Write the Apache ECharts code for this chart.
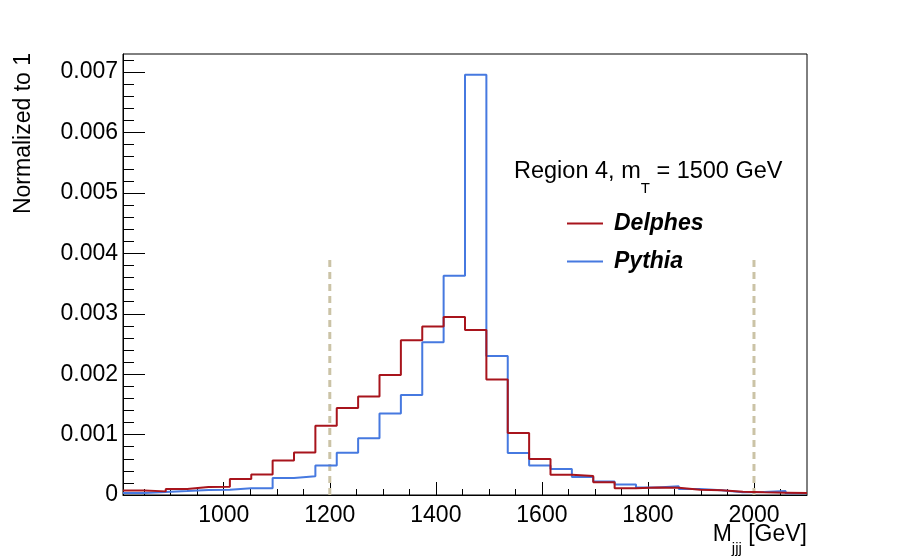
<!DOCTYPE html>
<html>
<head>
<meta charset="utf-8">
<script src="https://cdn.jsdelivr.net/npm/echarts@6/dist/echarts.min.js"></script>
<style>
  html, body { margin: 0; padding: 0; background: #fff; }
  #main { width: 913px; height: 556px; }
</style>
</head>
<body>
<div id="main"></div>
<script>
// histogram binning (M_jjj in GeV)
var xMin = 810, xMax = 2100, nBins = 32;

// normalized bin contents
var delphes = [0.076e-3, 0.060e-3, 0.099e-3, 0.132e-3, 0.138e-3, 0.265e-3, 0.340e-3, 0.573e-3,
               0.705e-3, 1.145e-3, 1.440e-3, 1.630e-3, 1.985e-3, 2.560e-3, 2.790e-3, 2.945e-3,
               2.730e-3, 1.910e-3, 1.026e-3, 0.595e-3, 0.336e-3, 0.314e-3, 0.210e-3, 0.112e-3,
               0.125e-3, 0.120e-3, 0.088e-3, 0.077e-3, 0.055e-3, 0.044e-3, 0.039e-3, 0.033e-3];
var pythia  = [0.033e-3, 0.050e-3, 0.066e-3, 0.083e-3, 0.088e-3, 0.110e-3, 0.110e-3, 0.280e-3,
               0.310e-3, 0.490e-3, 0.700e-3, 0.940e-3, 1.350e-3, 1.655e-3, 2.530e-3, 3.630e-3,
               6.955e-3, 2.300e-3, 0.695e-3, 0.490e-3, 0.430e-3, 0.300e-3, 0.222e-3, 0.173e-3,
               0.126e-3, 0.146e-3, 0.099e-3, 0.077e-3, 0.044e-3, 0.050e-3, 0.066e-3, 0.027e-3];

// mass window lines
var windowCuts = [1200, 2000];
var windowHeight = 0.00395;

// axis ticks
var xTicks = [1000, 1200, 1400, 1600, 1800, 2000];
var yTicks = [0, 0.001, 0.002, 0.003, 0.004, 0.005, 0.006, 0.007];
var yMax = 0.0073;

var myChart = echarts.init(document.getElementById('main'));

var binW = (xMax - xMin) / nBins;

function histData(vals) {
    var out = [];
    for (var i = 0; i < vals.length; i++) {
        out.push([xMin + i * binW, vals[i]]);
    }
    out.push([xMax, vals[vals.length - 1]]);
    return out;
}

// minor ticks: 50 GeV on x, 0.0002 on y
var xMinor = [], yMinor = [];
for (var v = 850; v < xMax; v += 50) xMinor.push(v);
for (var k = 0; k * 0.0002 <= yMax; k++) yMinor.push(+(k * 0.0002).toFixed(4));

var font = 'Liberation Sans, Arial, sans-serif';
var red = '#a8141c', blue = '#4679e0', cutColor = '#cbc3a6';

var cutSeries = windowCuts.map(function (c) {
    return {
        type: 'line',
        data: [[c, 0], [c, windowHeight]],
        showSymbol: false,
        silent: true,
        lineStyle: { color: cutColor, width: 3, type: [7, 5] },
        z: 1
    };
});

var option = {
    backgroundColor: '#fff',
    animation: false,
    grid: {
        left: 123, top: 54, width: 684, height: 441,
        show: true, borderColor: '#000', borderWidth: 1
    },
    xAxis: [{
        type: 'value', min: xMin, max: xMax,
        axisLine: { show: true, lineStyle: { color: '#000', width: 1 } },
        axisTick: { inside: true, length: 13, customValues: xTicks, lineStyle: { color: '#000', width: 1 } },
        axisLabel: {
            customValues: xTicks, color: '#000', fontFamily: font, fontSize: 23, margin: 9,
            formatter: function (v) { return String(v); }
        },
        splitLine: { show: false }
    }, {
        type: 'value', min: xMin, max: xMax, position: 'bottom',
        axisLine: { show: false },
        axisTick: { inside: true, length: 6, customValues: xMinor, lineStyle: { color: '#000', width: 1 } },
        axisLabel: { show: false },
        splitLine: { show: false }
    }],
    yAxis: [{
        type: 'value', min: 0, max: yMax,
        axisLine: { show: true, lineStyle: { color: '#000', width: 1 } },
        axisTick: { inside: true, length: 22, customValues: yTicks, lineStyle: { color: '#000', width: 1 } },
        axisLabel: {
            customValues: yTicks, color: '#000', fontFamily: font, fontSize: 23, margin: 5,
            formatter: function (v) { return v === 0 ? '0' : v.toFixed(3); }
        },
        splitLine: { show: false }
    }, {
        type: 'value', min: 0, max: yMax, position: 'left',
        axisLine: { show: false },
        axisTick: { inside: true, length: 11, customValues: yMinor, lineStyle: { color: '#000', width: 1 } },
        axisLabel: { show: false },
        splitLine: { show: false }
    }],
    legend: {
        left: 567, top: 212, orient: 'vertical', padding: 0,
        icon: 'rect', itemWidth: 36, itemHeight: 2, itemGap: 15,
        data: ['Delphes', 'Pythia'],
        textStyle: {
            fontFamily: font, fontSize: 23, lineHeight: 22, fontWeight: 'bold', fontStyle: 'italic',
            color: '#000', padding: [0, 0, 0, 6]
        }
    },
    graphic: [{
        type: 'text', left: 514, top: 160,
        style: {
            text: '{a|Region 4, m}{s|T}{a| = 1500 GeV}',
            rich: {
                a: { fontFamily: font, fontSize: 23.5, lineHeight: 23, verticalAlign: 'top', fill: '#000' },
                s: { fontFamily: font, fontSize: 15, lineHeight: 36, verticalAlign: 'bottom', fill: '#000' }
            }
        }
    }, {
        type: 'text', x: 24, y: 53, rotation: Math.PI / 2,
        style: { text: 'Normalized to 1', fontFamily: font, fontSize: 23, fill: '#000', align: 'right', verticalAlign: 'middle' }
    }, {
        type: 'text', right: 106, top: 523,
        style: {
            text: '{a|M}{s|jjj}{a| [GeV]}',
            rich: {
                a: { fontFamily: font, fontSize: 23, lineHeight: 23, verticalAlign: 'top', fill: '#000' },
                s: { fontFamily: font, fontSize: 15, lineHeight: 33, verticalAlign: 'bottom', fill: '#000' }
            }
        }
    }],
    series: cutSeries.concat([{
        name: 'Delphes', type: 'line', step: 'end',
        data: histData(delphes),
        showSymbol: false, clip: true,
        lineStyle: { color: red, width: 2 }, itemStyle: { color: red },
        z: 3
    }, {
        name: 'Pythia', type: 'line', step: 'end',
        data: histData(pythia),
        showSymbol: false, clip: true,
        lineStyle: { color: blue, width: 2 }, itemStyle: { color: blue },
        z: 2
    }])
};

myChart.setOption(option);
</script>
</body>
</html>
